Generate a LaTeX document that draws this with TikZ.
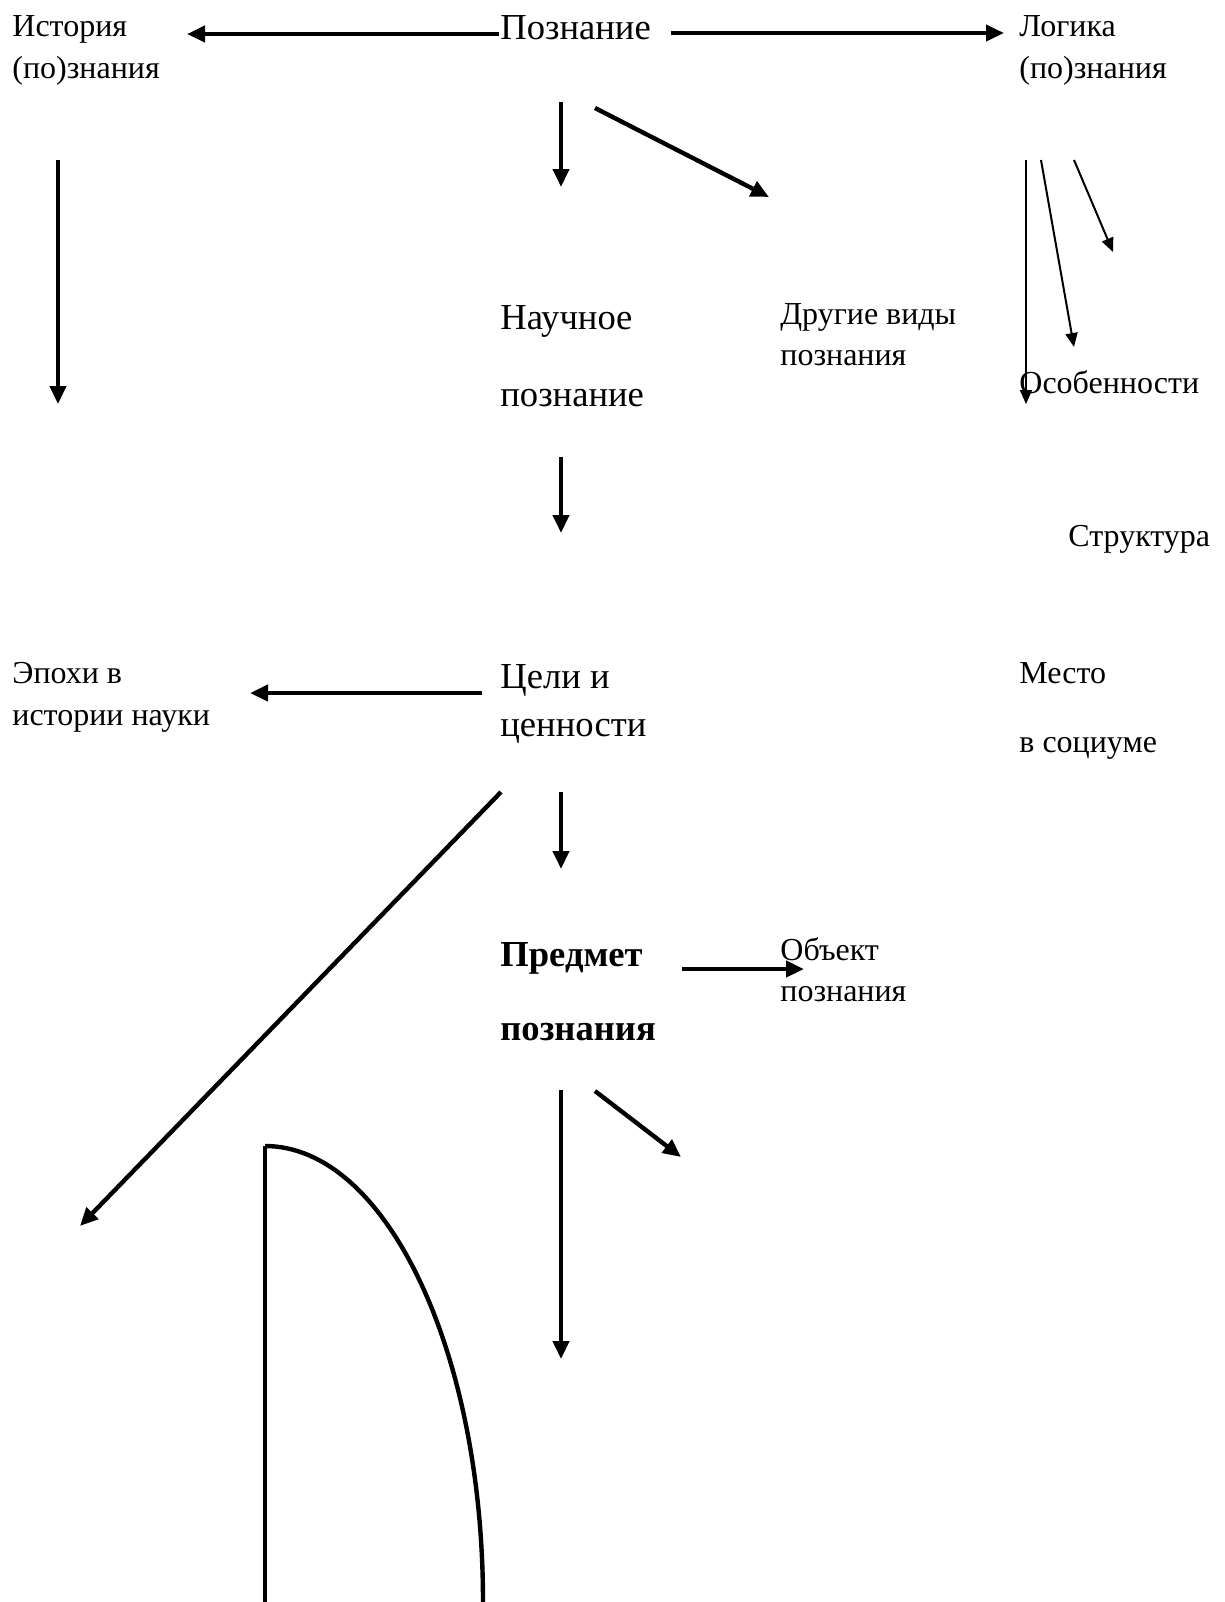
\documentclass[tikz,border=0pt]{standalone}
\usepackage{fontspec}
\setmainfont{Liberation Serif}
\usetikzlibrary{arrows.meta}
\begin{document}
\begin{tikzpicture}[x=0.5pt,y=-0.5pt,
  lbl/.style={anchor=base west,inner sep=0pt,font=\fontsize{16}{19}\selectfont},
  big/.style={anchor=base west,inner sep=0pt,font=\fontsize{18.3}{22}\selectfont},
  fat/.style={-{Triangle[length=9pt,width=8pt]},line width=2.2pt},
  slim/.style={-{Triangle[length=7pt,width=6pt]},line width=1pt}]
\useasboundingbox (0,0) rectangle (1225,1602);
% texts
\node[lbl] (hist1) at (12,36) {История};
\node[lbl] (hist2) at (12,78) {(по)знания};
\node[big] (pozn) at (500,39) {Познание};
\node[lbl] (log1) at (1019,36) {Логика};
\node[lbl] (log2) at (1019,78) {(по)знания};
\node[big] (nauch1) at (500,329) {Научное};
\node[big] (nauch2) at (500,406) {познание};
\node[lbl] (drug1) at (780,324) {Другие виды};
\node[lbl] (drug2) at (780,365) {познания};
\node[lbl] (osob) at (1019,393) {Особенности};
\node[lbl] (struct) at (1068,546) {Структура};
\node[lbl] (epoh1) at (12,683) {Эпохи в};
\node[lbl] (epoh2) at (12,725) {истории науки};
\node[big] (cel1) at (500,688) {Цели и};
\node[big] (cel2) at (500,736) {ценности};
\node[lbl] (mesto1) at (1019,683) {Место};
\node[lbl] (mesto2) at (1019,752) {в социуме};
\node[big,font=\fontsize{18.3}{22}\selectfont\bfseries] (pred1) at (500,966) {Предмет};
\node[big,font=\fontsize{18.3}{22}\selectfont\bfseries] (pred2) at (500,1040) {познания};
\node[lbl] (obj1) at (780,960) {Объект};
\node[lbl] (obj2) at (780,1001) {познания};
% arrow ends
\coordinate (a1) at (499,34);  \coordinate (b1) at (187,34);
\coordinate (a2) at (671,33);  \coordinate (b2) at (1004,33);
\coordinate (a3) at (561,102); \coordinate (b3) at (561,187);
\coordinate (a4) at (595,108); \coordinate (b4) at (769,197);
\coordinate (a5) at (58,160);  \coordinate (b5) at (58,404);
\coordinate (a6) at (1026,160); \coordinate (b6) at (1026,404);
\coordinate (a7) at (1041,160); \coordinate (b7) at (1074,347);
\coordinate (a8) at (1074,160); \coordinate (b8) at (1113,252);
\coordinate (a9) at (561,457); \coordinate (b9) at (561,533);
\coordinate (a10) at (482,693); \coordinate (b10) at (250,693);
\coordinate (a11) at (561,792); \coordinate (b11) at (561,869);
\coordinate (a12) at (501,792); \coordinate (b12) at (80,1226);
\coordinate (a13) at (682,969); \coordinate (b13) at (804,969);
\coordinate (a14) at (561,1090); \coordinate (b14) at (561,1359);
\coordinate (a15) at (595,1091); \coordinate (b15) at (681,1157);
\foreach \i in {1,2,3,4,5,9,10,11,12,13,14,15}
  \draw[fat] (a\i) -- (b\i);
\foreach \i in {6,7,8}
  \draw[slim] (a\i) -- (b\i);
% open shape at the bottom
\coordinate (top) at (265,1146);
\coordinate (foot) at (265,1602);
\draw[line width=1.7pt] (foot) -- (top);
\draw[line width=2.2pt] (top) arc[start angle=90,end angle=0,x radius=109pt,y radius=228pt];
\end{tikzpicture}
\end{document}
